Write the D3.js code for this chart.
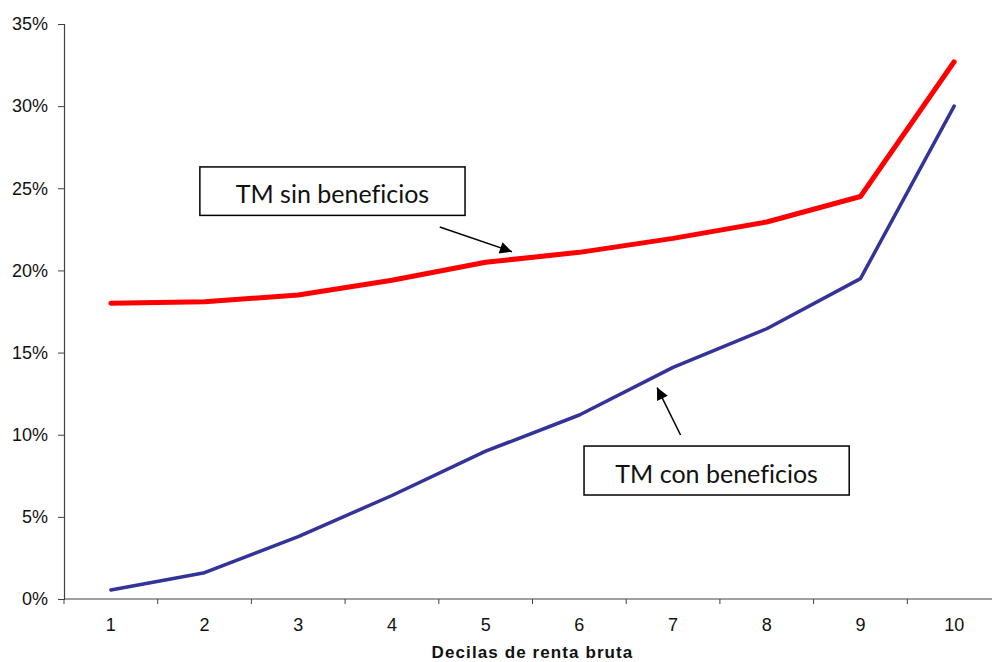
<!DOCTYPE html>
<html>
<head>
<meta charset="utf-8">
<script src="https://cdn.jsdelivr.net/npm/d3@7"></script>
<style>
  body { margin: 0; background: #fff; }
  svg { display: block; }
</style>
</head>
<body>
<div id="chart"></div>
<script>
const deciles = [1, 2, 3, 4, 5, 6, 7, 8, 9, 10];
const sinBeneficios = [18.0, 18.1, 18.5, 19.4, 20.5, 21.1, 21.95, 22.95, 24.5, 32.7];
const conBeneficios = [0.55, 1.6, 3.8, 6.3, 9.0, 11.2, 14.1, 16.45, 19.5, 30.0];
const yTicks = [0, 5, 10, 15, 20, 25, 30, 35];

// annotation boxes and arrows, in data units (decile, percent)
const labels = [
    {text: "TM sin beneficios", x0: 1.95, x1: 4.78, y0: 23.35, y1: 26.3,
     from: [4.51, 22.64], to: [5.28, 21.14]},
    {text: "TM con beneficios", x0: 6.05, x1: 8.88, y0: 6.33, y1: 9.31,
     from: [7.08, 9.98], to: [6.83, 12.87]}
];

const width = 992;
const height = 662;
const margin = {top: 24, right: -9, bottom: 63, left: 64};

const svg = d3.select("#chart").append("svg")
    .attr("width", width)
    .attr("height", height)
    .style("font-family", "Arial, 'Liberation Sans', sans-serif");

const x = d3.scaleBand()
    .domain(deciles)
    .range([margin.left, width - margin.right]);

// continuous version of x for annotations
const xl = d3.scaleLinear()
    .domain([0.5, 10.5])
    .range([margin.left, width - margin.right]);

const y = d3.scaleLinear()
    .domain([0, 35])
    .range([height - margin.bottom, margin.top]);

// x axis
const xAxis = svg.append("g")
    .attr("transform", `translate(0,${y(0)})`);
xAxis.append("line")
    .attr("x1", margin.left).attr("x2", width)
    .attr("stroke", "#808080").attr("stroke-width", 1.5);
xAxis.selectAll(".tick")
    .data(deciles)
    .enter().append("line")
    .attr("x1", d => x(d)).attr("x2", d => x(d))
    .attr("y1", 0).attr("y2", 5)
    .attr("stroke", "#404040");
xAxis.selectAll("text")
    .data(deciles)
    .enter().append("text")
    .attr("x", d => x(d) + x.bandwidth() / 2)
    .attr("y", 32)
    .attr("text-anchor", "middle")
    .attr("font-size", 18)
    .attr("fill", "#111")
    .text(d => d);

// y axis
const yAxis = svg.append("g")
    .attr("transform", `translate(${margin.left},0)`)
    .call(d3.axisLeft(y).tickValues(yTicks).tickSize(6).tickPadding(10).tickFormat(d => d + "%"));
yAxis.select(".domain").attr("stroke", "#404040").attr("stroke-width", 1.2);
yAxis.selectAll(".tick line").attr("stroke", "#404040");
yAxis.selectAll("text")
    .attr("font-size", 18)
    .attr("font-family", "Arial, 'Liberation Sans', sans-serif")
    .attr("fill", "#111");

svg.append("text")
    .attr("x", (margin.left + width - margin.right) / 2)
    .attr("y", height - 4)
    .attr("text-anchor", "middle")
    .attr("font-size", 17)
    .attr("font-weight", "bold")
    .attr("letter-spacing", 1.1)
    .attr("fill", "#111")
    .text("Decilas de renta bruta");

const line = d3.line()
    .x(d => x(d[0]) + x.bandwidth() / 2)
    .y(d => y(d[1]));

svg.append("path")
    .datum(deciles.map((d, i) => [d, conBeneficios[i]]))
    .attr("fill", "none")
    .attr("stroke", "#333399")
    .attr("stroke-width", 3.5)
    .attr("stroke-linejoin", "round")
    .attr("stroke-linecap", "round")
    .attr("d", line);

svg.append("path")
    .datum(deciles.map((d, i) => [d, sinBeneficios[i]]))
    .attr("fill", "none")
    .attr("stroke", "#ff0000")
    .attr("stroke-width", 5)
    .attr("stroke-linejoin", "round")
    .attr("stroke-linecap", "round")
    .attr("d", line);

// arrows
svg.append("defs").append("marker")
    .attr("id", "arrow")
    .attr("viewBox", "0 0 10 10")
    .attr("refX", 10).attr("refY", 5)
    .attr("markerWidth", 15).attr("markerHeight", 12)
    .attr("markerUnits", "userSpaceOnUse")
    .attr("orient", "auto")
    .append("path")
    .attr("d", "M0,0L10,5L0,10Z")
    .attr("fill", "#000");

const note = svg.append("g").selectAll("g")
    .data(labels)
    .enter().append("g");

note.append("line")
    .attr("x1", d => xl(d.from[0])).attr("y1", d => y(d.from[1]))
    .attr("x2", d => xl(d.to[0])).attr("y2", d => y(d.to[1]))
    .attr("stroke", "#000")
    .attr("stroke-width", 1.5)
    .attr("marker-end", "url(#arrow)");

note.append("rect")
    .attr("x", d => xl(d.x0))
    .attr("y", d => y(d.y1))
    .attr("width", d => xl(d.x1) - xl(d.x0))
    .attr("height", d => y(d.y0) - y(d.y1))
    .attr("fill", "#fff")
    .attr("stroke", "#000")
    .attr("stroke-width", 1.5);

note.append("text")
    .attr("x", d => (xl(d.x0) + xl(d.x1)) / 2)
    .attr("y", d => (y(d.y0) + y(d.y1)) / 2 + 12)
    .attr("text-anchor", "middle")
    .attr("font-family", "Lato, 'Open Sans', sans-serif")
    .attr("font-size", 25)
    .style("font-variant-ligatures", "none")
    .attr("fill", "#111")
    .text(d => d.text);
</script>
</body>
</html>
